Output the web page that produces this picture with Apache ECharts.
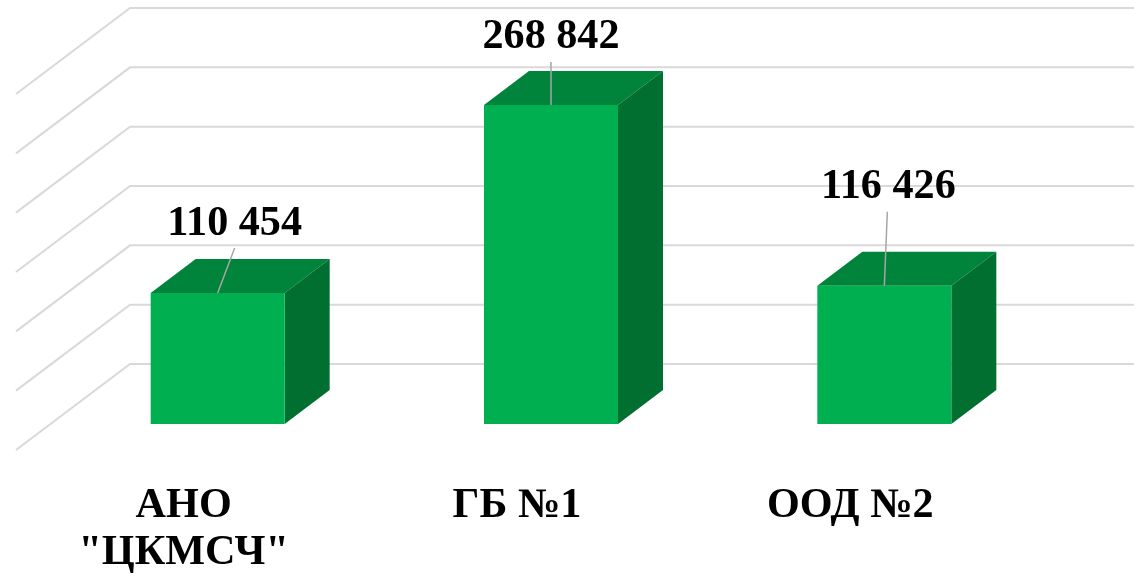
<!DOCTYPE html>
<html><head><meta charset="utf-8">
<style>html,body{margin:0;padding:0;background:#fff}#c{width:1141px;height:576px}</style>
<script src="https://cdn.jsdelivr.net/npm/echarts@6/dist/echarts.min.js"></script>
</head><body><div id="c"></div>
<script>
const categories = ['АНО\n"ЦКМСЧ"', 'ГБ №1', 'ООД №2'];
const values = [110454, 268842, 116426];
const valueLabels = ['110 454', '268 842', '116 426'];
const wallTicks = [0, 50000, 100000, 150000, 200000, 250000, 300000];

// 3D projection and label layout
const depthX = 45, depthY = 34, wallDepthX = 114, wallDepthY = 86, wallOffX = -35, wallOffY = 26, wallRight = 1134, barW = 134;
const labelOffsets = [[17, -69], [0, -68], [4, -99]];
const leaderEnds = [[17, -45], [0, -43], [3, -74]];
const FONT = '"Liberation Serif"';

const chart = echarts.init(document.getElementById('c'), null, {renderer: 'canvas'});
chart.setOption({
  animation: false,
  backgroundColor: '#fff',
  grid: {left: 51, width: 1000, top: 68, height: 356, outerBoundsMode: 'none', containLabel: false},
  xAxis: {
    type: 'category', data: categories,
    axisLine: {show: false}, axisTick: {show: false}, splitLine: {show: false},
    axisLabel: {margin: 59, color: '#000', fontFamily: FONT, fontWeight: 'bold', fontSize: 42.2, lineHeight: 47, padding: [0, 68, 0, 0], interval: 0}
  },
  yAxis: {type: 'value', min: 0, max: 300000, interval: 50000, show: false, splitLine: {show: false}},
  series: [
    {
      type: 'custom', clip: false, z: 1, silent: true, coordinateSystem: 'cartesian2d',
      data: wallTicks.map(v => [0, v]),
      encode: {x: 0, y: 1},
      renderItem(params, api) {
        const y = api.coord([0, api.value(1)])[1];
        const x0 = params.coordSys.x + wallOffX, y0 = y + wallOffY;
        return {type: 'polyline', shape: {points: [[x0, y0], [x0 + wallDepthX, y0 - wallDepthY], [wallRight, y0 - wallDepthY]]},
          style: {stroke: '#d9d9d9', lineWidth: 2, fill: null}};
      }
    },
    {
      type: 'custom', clip: false, z: 2, silent: true, coordinateSystem: 'cartesian2d',
      data: values.map((v, i) => [i, v]),
      encode: {x: 0, y: 1},
      renderItem(params, api) {
        const i = params.dataIndex;
        const top = api.coord([api.value(0), api.value(1)]);
        const base = api.coord([api.value(0), 0]);
        const L = top[0] - barW / 2, R = top[0] + barW / 2, T = top[1], B = base[1];
        const off = labelOffsets[i], end = leaderEnds[i];
        return {type: 'group', children: [
          {type: 'polygon', shape: {points: [[L, T], [R, T], [R + depthX, T - depthY], [L + depthX, T - depthY]]}, style: {fill: '#00833a'}},
          {type: 'polygon', shape: {points: [[R, T], [R + depthX, T - depthY], [R + depthX, B - depthY], [R, B]]}, style: {fill: '#006f2f'}},
          {type: 'rect', shape: {x: L, y: T, width: barW, height: B - T}, style: {fill: '#00b050'}},
          {type: 'line', shape: {x1: top[0], y1: T, x2: top[0] + end[0], y2: T + end[1]}, style: {stroke: '#a6a6a6', lineWidth: 1.5}},
          {type: 'text', x: top[0] + off[0], y: T + off[1], style: {text: valueLabels[i], fill: '#000', font: 'bold 42.2px ' + FONT, textAlign: 'center', textVerticalAlign: 'middle'}}
        ]};
      }
    }
  ]
});
</script></body></html>
